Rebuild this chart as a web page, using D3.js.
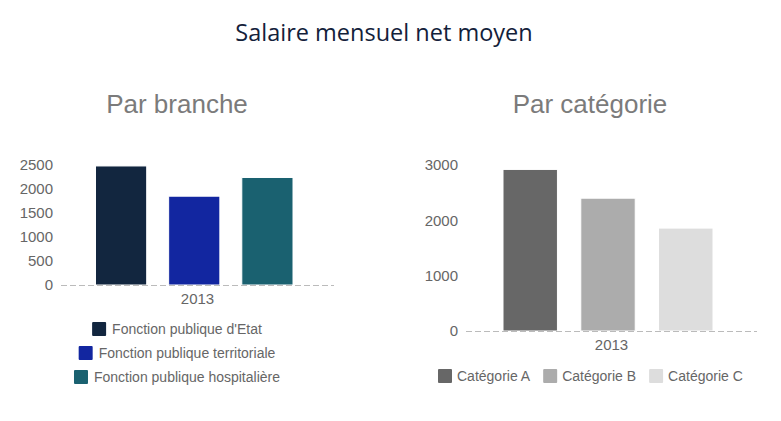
<!DOCTYPE html>
<html>
<head>
<meta charset="utf-8">
<script src="https://cdnjs.cloudflare.com/ajax/libs/d3/7.8.5/d3.min.js"></script>
<style>
  body { margin: 0; background: #fff; }
  svg { display: block; font-family: "Liberation Sans", Arial, sans-serif; }
</style>
</head>
<body>
<svg id="svg" width="781" height="421"></svg>
<script>
var years = ['2013'];

var branches = ["Fonction publique d'Etat", 'Fonction publique territoriale', 'Fonction publique hospitalière'];
var brancheValues = [2480, 1850, 2240];
var brancheColors = ['#12263f', '#1226a0', '#1a6170'];
var brancheTicks = [0, 500, 1000, 1500, 2000, 2500];

var categories = ['Catégorie A', 'Catégorie B', 'Catégorie C'];
var categorieValues = [2920, 2400, 1860];
var categorieColors = ['#676767', '#acacac', '#dddddd'];
var categorieTicks = [0, 1000, 2000, 3000];

var svg = d3.select('svg');

svg.append('text')
  .attr('x', 384).attr('y', 41)
  .attr('text-anchor', 'middle')
  .style('font-family', '"Open Sans", sans-serif')
  .style('font-size', '23.5px')
  .attr('fill', '#13213a')
  .text('Salaire mensuel net moyen');

function drawChart(opt) {
  var g = svg.append('g');

  g.append('text')
    .attr('x', opt.titleX).attr('y', 113)
    .attr('text-anchor', 'middle')
    .style('font-size', '26px')
    .attr('fill', '#7b7b7b')
    .text(opt.title);

  var y = d3.scaleLinear()
    .domain([0, d3.max(opt.ticks)])
    .range([opt.bottom, opt.top]);

  var x0 = d3.scaleBand().domain(years).range([opt.left, opt.right]);
  var x1 = d3.scaleBand().domain(opt.names)
    .range([opt.groupLeft, opt.groupRight])
    .paddingInner(opt.inner);

  var yAxis = d3.axisLeft(y).tickValues(opt.ticks).tickFormat(d3.format('d')).tickSize(0).tickPadding(8);
  var ya = g.append('g').attr('transform', 'translate(' + opt.left + ',0)').call(yAxis);
  ya.select('.domain').remove();
  ya.selectAll('text').attr('fill', '#666').style('font-size', '15px').style('font-family', '"Liberation Sans", Arial, sans-serif');

  g.selectAll('rect.bar')
    .data(opt.values)
    .enter().append('rect')
    .attr('class', 'bar')
    .attr('x', function (d, i) { return x1(opt.names[i]); })
    .attr('width', x1.bandwidth())
    .attr('y', function (d) { return y(d); })
    .attr('height', function (d) { return opt.bottom - y(d); })
    .attr('fill', function (d, i) { return opt.colors[i]; })
    .attr('stroke', '#ffffff')
    .attr('stroke-width', 1);

  g.append('line')
    .attr('x1', opt.left).attr('x2', opt.right)
    .attr('y1', opt.bottom + 0.5).attr('y2', opt.bottom + 0.5)
    .attr('stroke', '#bbbbbb')
    .attr('stroke-dasharray', '6,3');

  g.append('text')
    .attr('x', x0('2013') + x0.bandwidth() / 2).attr('y', opt.bottom + 19)
    .attr('text-anchor', 'middle')
    .attr('fill', '#666')
    .style('font-size', '15px')
    .text(years[0]);

  return g;
}

var left = drawChart({
  title: 'Par branche', titleX: 177,
  names: branches, values: brancheValues, colors: brancheColors, ticks: brancheTicks,
  left: 61, right: 334, top: 165, bottom: 285,
  groupLeft: 95.5, groupRight: 293, inner: 0.3
});

// vertical legend, items centred
var legL = left.selectAll('g.leg')
  .data(branches)
  .enter().append('g').attr('class', 'leg')
  .attr('transform', function (d, i) { return 'translate(0,' + (329 + i * 24) + ')'; });
legL.each(function (d, i) {
  var it = d3.select(this);
  var t = it.append('text')
    .attr('y', 5).attr('fill', '#666')
    .style('font-size', '14px')
    .text(d);
  var w = t.node().getComputedTextLength();
  var start = 177 - (w + 20) / 2;
  it.append('rect')
    .attr('x', start).attr('y', -7)
    .attr('width', 14).attr('height', 14)
    .attr('rx', 1)
    .attr('fill', brancheColors[i]);
  t.attr('x', start + 20);
});

var right = drawChart({
  title: 'Par catégorie', titleX: 590,
  names: categories, values: categorieValues, colors: categorieColors, ticks: categorieTicks,
  left: 466, right: 757, top: 165, bottom: 331,
  groupLeft: 503, groupRight: 713, inner: 0.3
});

// horizontal legend
var xPos = 438;
categories.forEach(function (c, i) {
  var it = right.append('g').attr('transform', 'translate(0,376)');
  it.append('rect')
    .attr('x', xPos).attr('y', -7)
    .attr('width', 14).attr('height', 14)
    .attr('rx', 1)
    .attr('fill', categorieColors[i]);
  var t = it.append('text')
    .attr('x', xPos + 19).attr('y', 5)
    .attr('fill', '#666')
    .style('font-size', '14px')
    .text(c);
  xPos += 19 + t.node().getComputedTextLength() + 13;
});
</script>
</body>
</html>
